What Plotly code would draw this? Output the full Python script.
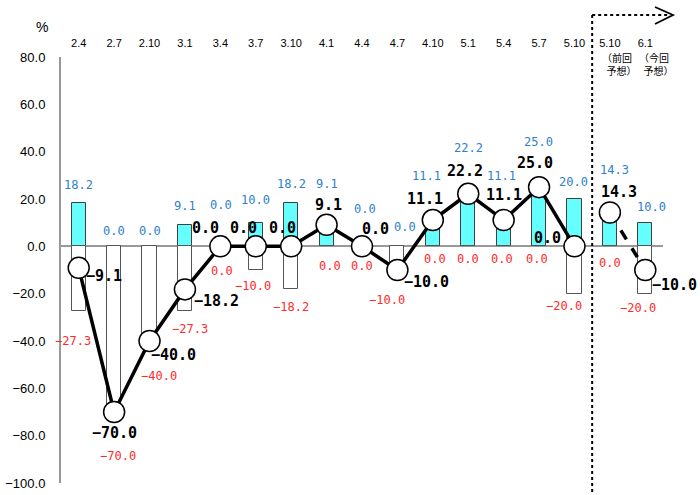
import plotly.graph_objects as go

# ---- data ----
periods = ["2.4", "2.7", "2.10", "3.1", "3.4", "3.7", "3.10", "4.1", "4.4", "4.7",
           "4.10", "5.1", "5.4", "5.7", "5.10", "5.10", "6.1"]
up_share = [18.2, 0.0, 0.0, 9.1, 0.0, 10.0, 18.2, 9.1, 0.0, 0.0,
            11.1, 22.2, 11.1, 25.0, 20.0, 14.3, 10.0]
down_share = [-27.3, -70.0, -40.0, -27.3, 0.0, -10.0, -18.2, 0.0, 0.0, -10.0,
              0.0, 0.0, 0.0, 0.0, -20.0, 0.0, -20.0]
di_values = [-9.1, -70.0, -40.0, -18.2, 0.0, 0.0, 0.0, 9.1, 0.0, -10.0,
             11.1, 22.2, 11.1, 25.0, 0.0, 14.3, -10.0]
n_actual = 15  # first 15 are actual results, last 2 are forecasts

# ---- label offsets (pixels, style only) ----
blue_dx = [0, 0, 0, 0, 1, 0, 0, 0, 3, 8, -6, 0, -2, -1, -1, 5, 6]
blue_dy = [18, 15, 15, 19, 41, 23, 19, 41, 37, 19, 44, 46, 44, 45, 17, 42, 16]
black_dx = [25, 0, 24, 32, -15, -12, -9, 2, 13, 29, -8, -3, 0, -4, -27, 9, 29]
black_dy = [-8, -21, -14, -12, 18, 18, 18, 20, 17, -12, 21, 23, 25, 24, 8, 20, -15]
red_dx = [-6, 4, 9, 5, 2, -3, 0, 3, 0, -10, 2, 0, -2, -2, -10, 0, -7]
red_dy = [-30, -44, -35, -18, -25, -16, -18, -20, -20, -30, -13, -13, -13, -13, -12, -17, -14]

xs = list(range(len(periods)))


def fmt(v):
    return f"{v:.1f}".replace("-", "\u2212")


fig = go.Figure()
fig.add_trace(go.Bar(x=xs, y=up_share, width=0.4,
                     marker=dict(color="#66FFFF", line=dict(color="#404040", width=1)),
                     showlegend=False, hoverinfo="skip"))
fig.add_trace(go.Bar(x=xs, y=down_share, width=0.4,
                     marker=dict(color="white", line=dict(color="#555555", width=1)),
                     showlegend=False, hoverinfo="skip"))
fig.add_trace(go.Scatter(x=xs[:n_actual], y=di_values[:n_actual], mode="lines+markers",
                         line=dict(color="black", width=3.5),
                         marker=dict(size=21, color="white", line=dict(color="black", width=1.5)),
                         showlegend=False, hoverinfo="skip"))
fig.add_trace(go.Scatter(x=xs[n_actual:], y=di_values[n_actual:], mode="lines+markers",
                         line=dict(color="black", width=3.5, dash="dash"),
                         marker=dict(size=21, color="white", line=dict(color="black", width=1.5)),
                         showlegend=False, hoverinfo="skip"))

mono = "DejaVu Sans Mono"
ann = []
for i in xs:
    ann.append(dict(x=i, y=up_share[i], text=fmt(up_share[i]), showarrow=False,
                    xshift=blue_dx[i], yshift=blue_dy[i],
                    font=dict(family=mono, size=12, color="#2E7FCC")))
    ann.append(dict(x=i, y=down_share[i], text=fmt(down_share[i]), showarrow=False,
                    xshift=red_dx[i], yshift=red_dy[i],
                    font=dict(family=mono, size=12, color="#FF2A2A")))
    ann.append(dict(x=i, y=di_values[i], text="<b>" + fmt(di_values[i]) + "</b>", showarrow=False,
                    xshift=black_dx[i], yshift=black_dy[i],
                    font=dict(family=mono, size=15, color="black")))

# layout geometry
W, H = 700, 495
PL, PR, PT, PB = 61, 663, 57, 483          # plot area edges in pixels
ML, MT, MR, MB = PL, PT, W - PR, H - PB
PW, PH = PR - PL, PB - PT


def px_x(p):
    return (p - PL) / PW


def px_y(p):
    return (PB - p) / PH


ann.append(dict(xref="paper", yref="paper", x=px_x(42), y=px_y(27), text="%", showarrow=False,
                xanchor="center", yanchor="middle",
                font=dict(family="Liberation Sans", size=14, color="black")))
ann.append(dict(x=15, y=80, yshift=9, xshift=-10, text="（前回<br>  予想）", showarrow=False,
                align="left", xanchor="left", yanchor="top",
                font=dict(family="Noto Sans CJK JP", size=10, color="black")))
ann.append(dict(x=16, y=80, yshift=9, xshift=-8, text="（今回<br>  予想）", showarrow=False,
                align="left", xanchor="left", yanchor="top",
                font=dict(family="Noto Sans CJK JP", size=10, color="black")))

xr = [-0.5, len(periods) - 0.5]
sep = (n_actual - 0.5 - xr[0]) / (xr[1] - xr[0])
shapes = [
    dict(type="line", xref="paper", yref="paper", x0=sep, x1=sep, y0=px_y(492), y1=px_y(15),
         line=dict(color="black", width=2, dash="dot")),
    dict(type="line", xref="paper", yref="paper", x0=sep, x1=px_x(670), y0=px_y(15), y1=px_y(15),
         line=dict(color="black", width=2, dash="dot")),
    dict(type="path", xref="paper", yref="paper",
         path=f"M {px_x(655)},{px_y(7)} L {px_x(673)},{px_y(15)} L {px_x(655)},{px_y(24)}",
         line=dict(color="black", width=1.8)),
]

fig.update_layout(
    width=W, height=H,
    margin=dict(l=ML, r=MR, t=MT, b=MB, autoexpand=False),
    plot_bgcolor="white", paper_bgcolor="white",
    barmode="overlay", bargap=0,
    annotations=ann, shapes=shapes,
    font=dict(family="Liberation Sans", size=13, color="black"),
    xaxis=dict(range=xr, tickmode="array", tickvals=xs, ticktext=periods, side="top",
               showgrid=False, zeroline=False, showline=False, ticks="", automargin=False,
               ticklabelstandoff=7,
               tickfont=dict(family="Liberation Sans", size=11)),
    yaxis=dict(range=[-100, 80], dtick=20, tickformat=".1f", showgrid=False,
               zeroline=True, zerolinecolor="#999999", zerolinewidth=2, automargin=False,
               showline=True, linecolor="#999999", linewidth=2, ticks="",
               ticklabelstandoff=11, ticklabeloverflow="allow",
               tickfont=dict(family="Liberation Sans", size=13)),
)

# remove the default page margin so the figure fills the 700x495 window exactly
fig.write_html("out.html", config={"displayModeBar": False},
               post_script="document.body.style.margin='0px';")
